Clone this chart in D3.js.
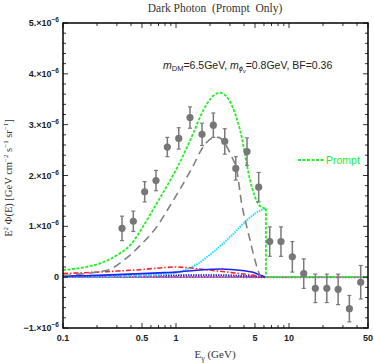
<!DOCTYPE html>
<html>
<head>
<meta charset="utf-8">
<script src="https://cdn.jsdelivr.net/npm/d3@7"></script>
<style>
body { margin: 0; background: #fff; }
svg { display: block; }
.tick-lab { font-family: "Liberation Sans", Arial, sans-serif; font-size: 9px; font-weight: bold; fill: #222; }
.serif { font-family: "Liberation Serif", "Times New Roman", serif; fill: #333; }
</style>
</head>
<body>
<script>
var w = 374,
h = 363,
plotLeft = 63, plotRight = 368, plotTop = 23, plotBottom = 328;

// data points (Fermi residual), E in GeV, flux in 1e-6
var ptE = [0.333, 0.419, 0.528, 0.665, 0.838, 1.057, 1.33, 1.70, 2.14, 2.70, 3.38, 4.25,
           5.39, 6.75, 8.49, 10.7, 13.5, 17.1, 21.6, 27.2, 34.2, 43.1];
var ptY = [0.96, 1.10, 1.68, 1.90, 2.56, 2.73, 3.14, 2.81, 2.99, 2.67, 2.14, 2.47,
           1.77, 0.70, 0.70, 0.40, 0.07, -0.22, -0.22, -0.24, -0.62, -0.10];
var ptErr = [0.24, 0.20, 0.20, 0.20, 0.19, 0.21, 0.21, 0.22, 0.24, 0.25, 0.23, 0.27,
             0.29, 0.29, 0.29, 0.30, 0.29, 0.28, 0.28, 0.30, 0.26, 0.33];

// model curves
var cutE = 6.25;
var greenE = [0.1, 0.15, 0.212, 0.319, 0.405, 0.48, 0.675, 0.855, 1.05, 1.42, 1.75, 2.14, 2.42, 2.81, 3.33, 3.81, 4.27, 4.52, 5.0, 5.54, 6.25];
var greenY = [0.14, 0.19, 0.27, 0.47, 0.66, 0.90, 1.45, 1.84, 2.20, 2.83, 3.29, 3.57, 3.63, 3.55, 3.22, 2.76, 2.17, 1.91, 1.58, 1.40, 1.35];
var greyE = [0.1, 0.141, 0.2, 0.27, 0.33, 0.4, 0.48, 0.675, 0.855, 1.38, 1.75, 2.07, 2.37, 2.71, 3.11, 3.44, 3.81, 4.23, 4.52, 5.0, 5.35, 5.6];
var greyY = [0.03, 0.06, 0.10, 0.17, 0.30, 0.45, 0.62, 0.99, 1.35, 2.14, 2.57, 2.73, 2.75, 2.63, 2.37, 2.12, 1.45, 0.99, 0.73, 0.33, 0.12, 0.0];
var cyanE = [0.1, 0.3, 0.5, 0.8, 1.0, 1.2, 1.57, 2.07, 2.81, 3.21, 4.23, 5.0, 6.25];
var cyanY = [0.01, 0.02, 0.03, 0.06, 0.09, 0.14, 0.27, 0.47, 0.73, 0.85, 1.12, 1.25, 1.36];
var redE = [0.1, 0.2, 0.3, 0.5, 0.8, 1.0, 1.2, 1.8, 3.1, 4.7, 5.9, 6.25];
var redY = [0.07, 0.10, 0.12, 0.15, 0.19, 0.20, 0.19, 0.15, 0.09, 0.04, 0.005, 0];
var blueE = [0.1, 0.2, 0.3, 0.5, 0.8, 1.0, 1.6, 2.5, 3.1, 4.7, 5.6, 6.25];
var blueY = [0.02, 0.035, 0.05, 0.07, 0.09, 0.10, 0.14, 0.16, 0.15, 0.10, 0.04, 0];
var navyE = [0.1, 0.5, 1.0, 2.0, 4.0, 5.5, 6.25];
var navyY = [0.02, 0.03, 0.035, 0.04, 0.025, 0.01, 0];
var pinkE = [0.1, 1.0, 6.25, 50];
var pinkY = [0.005, 0.005, 0, 0];

var xTicks = [0.1, 0.5, 1, 5, 10, 50];
var yTicks = [-1, 0, 1, 2, 3, 4, 5];

var svg = d3.select("body").append("svg")
.attr("width", w)
.attr("height", h);

var x = d3.scaleLog().domain([0.1, 50]).range([plotLeft, plotRight]);
var y = d3.scaleLinear().domain([-1, 5]).range([plotBottom, plotTop]);

// clip
svg.append("clipPath").attr("id", "clip")
.append("rect").attr("x", plotLeft).attr("y", plotTop).attr("width", plotRight - plotLeft).attr("height", plotBottom - plotTop);

var plot = svg.append("g").attr("clip-path", "url(#clip)");

// zero line
plot.append("line")
.attr("x1", plotLeft).attr("x2", plotRight)
.attr("y1", y(0)).attr("y2", y(0))
.attr("stroke", "#555").attr("stroke-width", 1);

function curve(xs, ys, color, dash, width) {
    var pts = xs.map(function(d, i) { return [x(d), y(ys[i])]; });
    plot.append("path")
    .attr("d", d3.line().curve(d3.curveMonotoneX)(pts))
    .attr("fill", "none")
    .attr("stroke", color)
    .attr("stroke-width", width)
    .attr("stroke-dasharray", dash);
}

curve(pinkE, pinkY, "#cc33cc", "1.5,1.5", 2);
curve(navyE, navyY, "#3030c0", "1.5,1", 2);
curve(cyanE, cyanY, "#22ddff", "1.5,1", 2);
curve(redE, redY, "#ff2222", "5,2,1.5,2", 1.6);
curve(blueE, blueY, "#1f1fff", null, 1.6);
curve(greyE, greyY, "#808080", "8,5", 1.6);
curve(greenE, greenY, "#22ee22", "3,1.5", 1.8);

// green drop after the cutoff
plot.append("path")
.attr("d", d3.line()([[x(cutE), y(greenY[greenY.length - 1])], [x(cutE), y(0)], [x(50), y(0)]]))
.attr("fill", "none")
.attr("stroke", "#22ee22")
.attr("stroke-width", 1.8)
.attr("stroke-dasharray", "3,1.5");

// data points with error bars
var pts = plot.append("g");
ptE.forEach(function(e, i) {
    var px = x(e);
    pts.append("line")
    .attr("x1", px).attr("x2", px)
    .attr("y1", y(ptY[i] - ptErr[i])).attr("y2", y(ptY[i] + ptErr[i]))
    .attr("stroke", "#7a7a7a").attr("stroke-width", 1.5);
    [ptY[i] - ptErr[i], ptY[i] + ptErr[i]].forEach(function(v) {
        pts.append("line")
        .attr("x1", px - 2).attr("x2", px + 2)
        .attr("y1", y(v)).attr("y2", y(v))
        .attr("stroke", "#7a7a7a").attr("stroke-width", 1.2);
    });
    pts.append("circle")
    .attr("cx", px).attr("cy", y(ptY[i]))
    .attr("r", 3.6)
    .attr("fill", "#777");
});

// frame ticks
var ticks = svg.append("g").attr("stroke", "#000").attr("stroke-width", 0.8);
var yMinor = d3.range(-1, 5.001, 0.2);
yMinor.forEach(function(v) {
    var major = Math.abs(v - Math.round(v)) < 1e-6;
    var len = major ? 5 : 3;
    ticks.append("line").attr("x1", plotLeft).attr("x2", plotLeft + len).attr("y1", y(v)).attr("y2", y(v));
    ticks.append("line").attr("x1", plotRight).attr("x2", plotRight - len).attr("y1", y(v)).attr("y2", y(v));
});
var xMinor = [];
[0.1, 1, 10].forEach(function(d) {
    for (var k = 1; k <= 9; k++) if (d * k <= 50) xMinor.push(d * k);
});
xMinor.forEach(function(v) {
    var major = xTicks.indexOf(+v.toPrecision(3)) >= 0;
    var len = major ? 5 : 3;
    ticks.append("line").attr("x1", x(v)).attr("x2", x(v)).attr("y1", plotBottom).attr("y2", plotBottom - len);
    ticks.append("line").attr("x1", x(v)).attr("x2", x(v)).attr("y1", plotTop).attr("y2", plotTop + len);
});

// frame
svg.append("rect")
.attr("x", plotLeft).attr("y", plotTop)
.attr("width", plotRight - plotLeft).attr("height", plotBottom - plotTop)
.attr("fill", "none").attr("stroke", "#000").attr("stroke-width", 1.5);

// y tick labels
yTicks.forEach(function(v) {
    var t = svg.append("text").attr("class", "tick-lab")
    .attr("x", plotLeft - 4).attr("y", y(v) + 3)
    .attr("text-anchor", "end");
    if (v === 0) { t.text("0"); return; }
    t.append("tspan").text((v < 0 ? "\u2212" : "") + Math.abs(v) + ".\u00d710");
    t.append("tspan").attr("dy", -4).attr("font-size", "6.5px").text("\u22126");
});

// x tick labels
xTicks.forEach(function(v) {
    svg.append("text").attr("class", "tick-lab")
    .attr("x", x(v)).attr("y", 341)
    .attr("text-anchor", "middle")
    .text(v);
});

// title
svg.append("text").attr("class", "serif")
.attr("x", 215).attr("y", 12)
.attr("text-anchor", "middle")
.attr("font-size", "11.5px")
.attr("xml:space", "preserve")
.text("Dark Photon  (Prompt  Only)");

// x title
var xt = svg.append("text").attr("class", "serif")
.attr("x", 215).attr("y", 358)
.attr("text-anchor", "middle")
.attr("font-size", "11px");
xt.append("tspan").text("E");
xt.append("tspan").attr("dy", 3).attr("font-size", "8px").text("\u03b3");
xt.append("tspan").attr("dy", -3).text(" (GeV)");

// y title
var yt = svg.append("text").attr("class", "serif")
.attr("transform", "translate(12,178) rotate(-90)")
.attr("text-anchor", "middle")
.attr("font-size", "10.5px");
yt.append("tspan").text("E");
yt.append("tspan").attr("dy", -4).attr("font-size", "7px").text("2");
yt.append("tspan").attr("dy", 4).text(" \u03a6(E) [GeV cm");
yt.append("tspan").attr("dy", -4).attr("font-size", "7px").text("\u22122");
yt.append("tspan").attr("dy", 4).text(" s");
yt.append("tspan").attr("dy", -4).attr("font-size", "7px").text("\u22121");
yt.append("tspan").attr("dy", 4).text(" sr");
yt.append("tspan").attr("dy", -4).attr("font-size", "7px").text("\u22121");
yt.append("tspan").attr("dy", 4).text("]");

// annotation
var an = svg.append("text")
.attr("x", 163).attr("y", 69)
.attr("font-family", "Liberation Sans, Arial, sans-serif")
.attr("font-size", "10.5px")
.attr("fill", "#222");
an.append("tspan").attr("font-style", "italic").text("m");
an.append("tspan").attr("dy", 2).attr("font-size", "7.5px").text("DM");
an.append("tspan").attr("dy", -2).text("=6.5GeV, ");
an.append("tspan").attr("font-style", "italic").text("m");
an.append("tspan").attr("dy", 2).attr("font-size", "7.5px").attr("font-style", "italic").text("\u03d5");
an.append("tspan").attr("dy", 1.5).attr("font-size", "5.5px").attr("font-style", "italic").text("\u03bd");
an.append("tspan").attr("dy", -3.5).text("=0.8GeV, BF=0.36");

// legend
svg.append("line")
.attr("x1", 298).attr("x2", 325).attr("y1", 160).attr("y2", 160)
.attr("stroke", "#22ee22").attr("stroke-width", 1.8).attr("stroke-dasharray", "3,1.5");
svg.append("text")
.attr("x", 326).attr("y", 164)
.attr("font-family", "Liberation Sans, Arial, sans-serif")
.attr("font-size", "10.5px")
.attr("fill", "#22ee22")
.text("Prompt");
</script>
</body>
</html>
